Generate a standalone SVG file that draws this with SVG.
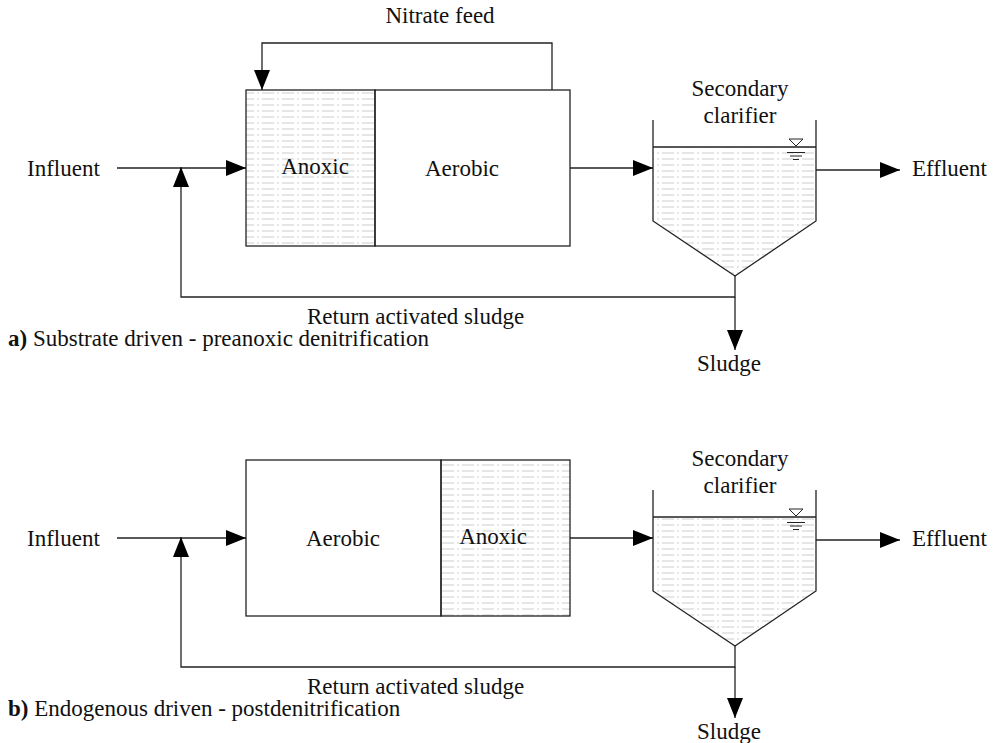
<svg xmlns="http://www.w3.org/2000/svg" width="994" height="743" viewBox="0 0 994 743">
<style>
text{font-family:"Liberation Serif","Times New Roman",serif;font-size:23px;fill:#111}
.box{fill:none;stroke:#222;stroke-width:1.3}
.hat{fill:url(#hatch);stroke:none}
.ln{fill:none;stroke:#222;stroke-width:1.3}
</style>
<defs>
<marker id="ah" markerUnits="userSpaceOnUse" markerWidth="20" markerHeight="16" refX="20" refY="8" orient="auto" viewBox="0 0 20 16">
<path d="M0,0 L20,8 L0,16 z" fill="#000"/>
</marker>
<pattern id="hatch" patternUnits="userSpaceOnUse" width="20" height="6" x="2" y="0">
<path d="M0,3 H12 M15,3 H17" stroke="#cdcdcd" stroke-width="1.2"/>
</pattern>
<clipPath id="cl-a"><polygon points="653,147 816,147 816,221 735,276 653,221"/></clipPath>
<clipPath id="cl-b"><polygon points="653,517 816,517 816,591 735,646 653,591"/></clipPath>
</defs>

<!-- Diagram a -->
<g id="anoxic-a">
<rect x="246" y="90" width="129" height="156" class="hat"/>
<rect x="246" y="90" width="129" height="156" class="box"/>
<text x="315" y="174" text-anchor="middle">Anoxic</text>
</g>
<g id="aerobic-a">
<rect x="375" y="90" width="195" height="156" class="box"/>
<text x="462" y="176" text-anchor="middle">Aerobic</text>
</g>
<g id="clarifier-a">
<rect x="653" y="147" width="163" height="130" class="hat" clip-path="url(#cl-a)"/>
<polyline points="653,120 653,221 735,276 816,221 816,120" class="ln"/>
<line x1="653" y1="147" x2="816" y2="147" class="ln"/>
<polygon points="789,139 803,139 796,146" fill="#fff" stroke="#222" stroke-width="1"/>
<path d="M787,152.5 H805 M790,156 H802 M793,159.5 H799" stroke="#222" stroke-width="1"/>
<text x="740" y="96" text-anchor="middle">Secondary</text>
<text x="740" y="123" text-anchor="middle">clarifier</text>
</g>
<g id="labels-a">
<text x="27" y="176">Influent</text>
<text x="912" y="176">Effluent</text>
<text x="440" y="23" text-anchor="middle">Nitrate feed</text>
<text x="307" y="324">Return activated sludge</text>
<text x="697" y="371">Sludge</text>
<text x="8" y="346"><tspan font-weight="bold">a)</tspan> Substrate driven - preanoxic denitrification</text>
</g>
<g id="connectors-a">
<line x1="117" y1="168" x2="246" y2="168" class="ln" marker-end="url(#ah)"/>
<polyline points="735,276 735,297 181,297 181,167" class="ln" marker-end="url(#ah)"/>
<line x1="735" y1="297" x2="735" y2="350" class="ln" marker-end="url(#ah)"/>
<polyline points="552,90 552,43 262,43 262,90" class="ln" marker-end="url(#ah)"/>
<line x1="570" y1="168" x2="653" y2="168" class="ln" marker-end="url(#ah)"/>
<line x1="816" y1="170" x2="900" y2="170" class="ln" marker-end="url(#ah)"/>
</g>

<!-- Diagram b -->
<g id="aerobic-b">
<rect x="246" y="460" width="195" height="156" class="box"/>
<text x="343" y="546" text-anchor="middle">Aerobic</text>
</g>
<g id="anoxic-b">
<rect x="441" y="460" width="129" height="156" class="hat"/>
<rect x="441" y="460" width="129" height="156" class="box"/>
<text x="493" y="544" text-anchor="middle">Anoxic</text>
</g>
<g id="clarifier-b">
<rect x="653" y="517" width="163" height="130" class="hat" clip-path="url(#cl-b)"/>
<polyline points="653,490 653,591 735,646 816,591 816,490" class="ln"/>
<line x1="653" y1="517" x2="816" y2="517" class="ln"/>
<polygon points="789,509 803,509 796,516" fill="#fff" stroke="#222" stroke-width="1"/>
<path d="M787,522.5 H805 M790,526 H802 M793,529.5 H799" stroke="#222" stroke-width="1"/>
<text x="740" y="466" text-anchor="middle">Secondary</text>
<text x="740" y="493" text-anchor="middle">clarifier</text>
</g>
<g id="labels-b">
<text x="27" y="546">Influent</text>
<text x="912" y="546">Effluent</text>
<text x="307" y="694">Return activated sludge</text>
<text x="697" y="739">Sludge</text>
<text x="8" y="716"><tspan font-weight="bold">b)</tspan> Endogenous driven - postdenitrification</text>
</g>
<g id="connectors-b">
<line x1="117" y1="538" x2="246" y2="538" class="ln" marker-end="url(#ah)"/>
<polyline points="735,646 735,667 181,667 181,537" class="ln" marker-end="url(#ah)"/>
<line x1="735" y1="667" x2="735" y2="718" class="ln" marker-end="url(#ah)"/>
<line x1="570" y1="538" x2="653" y2="538" class="ln" marker-end="url(#ah)"/>
<line x1="816" y1="540" x2="900" y2="540" class="ln" marker-end="url(#ah)"/>
</g>
</svg>
